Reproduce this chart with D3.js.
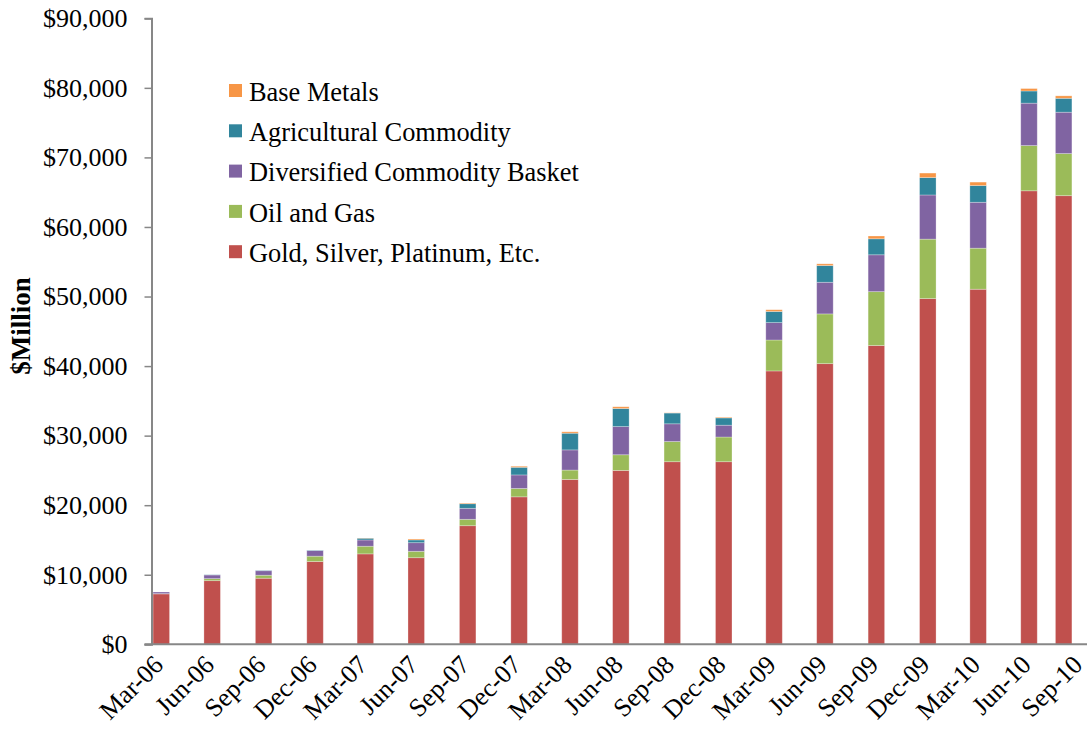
<!DOCTYPE html>
<html>
<head>
<meta charset="utf-8">
<script src="https://cdn.jsdelivr.net/npm/d3@7"></script>
<style>
  html, body { margin: 0; padding: 0; background: #fff; }
  svg { display: block; }
  text { font-family: "Liberation Serif", "Times New Roman", serif; fill: #000; }
</style>
</head>
<body>
<svg id="chart" width="1087" height="742"></svg>
<script>
// ---- Data ----
const categories = ["Mar-06","Jun-06","Sep-06","Dec-06","Mar-07","Jun-07","Sep-07","Dec-07","Mar-08","Jun-08","Sep-08","Dec-08","Mar-09","Jun-09","Sep-09","Dec-09","Mar-10","Jun-10","Sep-10"];
const dates = ["2006-03-31","2006-06-30","2006-09-30","2006-12-31","2007-03-31","2007-06-30","2007-09-30","2007-12-31","2008-03-31","2008-06-30","2008-09-30","2008-12-31","2009-03-31","2009-06-30","2009-09-30","2009-12-31","2010-03-31","2010-06-30","2010-08-31"];
const gold = [7250, 9150, 9500, 11900, 13000, 12450, 17050, 21200, 23700, 25000, 26250, 26250, 39300, 40350, 42950, 49700, 51050, 65200, 64500];
const oilGas = [30, 290, 430, 770, 1100, 920, 920, 1200, 1350, 2250, 2900, 3550, 4450, 7150, 7750, 8550, 5900, 6500, 6050];
const diversified = [240, 530, 650, 800, 900, 1240, 1580, 1950, 2900, 4050, 2550, 1700, 2500, 4550, 5300, 6350, 6600, 6100, 5950];
const agricultural = [0, 30, 50, 60, 250, 390, 660, 1100, 2400, 2600, 1550, 1050, 1600, 2400, 2300, 2500, 2400, 1750, 2000];
const baseMetals = [0, 0, 0, 0, 30, 140, 100, 150, 200, 250, 30, 100, 250, 250, 400, 650, 500, 350, 350];
const seriesNames = ["Gold, Silver, Platinum, Etc.", "Oil and Gas", "Diversified Commodity Basket", "Agricultural Commodity", "Base Metals"];
const seriesColors = ["#C0504D", "#9BBB59", "#8064A2", "#31859C", "#F79646"];
const yTicks = [0, 10000, 20000, 30000, 40000, 50000, 60000, 70000, 80000, 90000];
const xTickDates = ["2006-03-31","2006-06-30","2006-09-30","2006-12-31","2007-03-31","2007-06-30","2007-09-30","2007-12-31","2008-03-31","2008-06-30","2008-09-30","2008-12-31","2009-03-31","2009-06-30","2009-09-30","2009-12-31","2010-03-31","2010-06-30","2010-09-30"];

// ---- Build table ----
const parse = d3.utcParse("%Y-%m-%d");
const keys = ["gold","oil","div","ag","base"];
const seriesArrays = [gold, oilGas, diversified, agricultural, baseMetals];
const table = categories.map((c, i) => {
  const row = { cat: c, date: parse(dates[i]) };
  keys.forEach((k, j) => row[k] = seriesArrays[j][i]);
  return row;
});
const stacked = d3.stack().keys(keys)(table);

// ---- Scales ----
const svg = d3.select("#chart");
const axisX0 = 151.5, axisX1 = 1087;
const x = d3.scaleUtc()
  .domain([parse("2006-03-31"), parse("2010-06-30")])
  .range([161.3, 1029]);
const y = d3.scaleLinear().domain([0, 90000]).range([644.3, 18.3]);
const barW = 16.5;
const axisColor = "#878787";

// ---- Bars ----
const layers = svg.append("g").selectAll("g")
  .data(stacked).join("g")
  .attr("fill", (d, i) => seriesColors[i]);
layers.selectAll("rect")
  .data(d => d.filter(s => s[1] - s[0] > 0))
  .join("rect")
  .attr("x", d => x(d.data.date) - barW / 2)
  .attr("width", barW)
  .attr("y", d => y(d[1]))
  .attr("height", d => y(d[0]) - y(d[1]))
  .attr("stroke", "#ffffff")
  .attr("stroke-opacity", 0.35)
  .attr("stroke-width", 0.8);

// ---- Y axis ----
const fmt = d3.format(",");
const yAxis = d3.axisLeft(y).tickValues(yTicks).tickSize(7).tickPadding(17)
  .tickFormat(d => "$" + fmt(d));
const gy = svg.append("g").attr("transform", `translate(${axisX0},0)`).call(yAxis);
gy.select(".domain").attr("stroke", axisColor).attr("stroke-width", 2);
gy.selectAll(".tick line").attr("stroke", axisColor).attr("stroke-width", 1.5);
gy.selectAll(".tick text").style("font-size", "26px").style("font-family", "'Liberation Serif', serif").attr("fill", "#000");

// ---- X axis ----
svg.append("line")
  .attr("x1", axisX0 - 7).attr("x2", axisX1)
  .attr("y1", y(0)).attr("y2", y(0))
  .attr("stroke", axisColor).attr("stroke-width", 2);
const xAxis = d3.axisBottom(x).tickValues(xTickDates.map(parse)).tickSize(0)
  .tickFormat(d3.utcFormat("%b-%y"));
const gx = svg.append("g").attr("transform", `translate(0,${y(0)})`).call(xAxis);
gx.select(".domain").remove();
gx.selectAll(".tick text")
  .style("font-size", "26px").style("font-family", "'Liberation Serif', serif")
  .attr("fill", "#000")
  .attr("text-anchor", "end")
  .attr("y", 0).attr("dy", 0)
  .attr("transform", "translate(3,22) rotate(-45)");

// ---- Y title ----
svg.append("text")
  .attr("transform", "translate(30,326) rotate(-90)")
  .attr("text-anchor", "middle")
  .style("font-size", "27px").style("font-weight", "bold")
  .text("$Million");

// ---- Legend ----
const legendOrder = [4, 3, 2, 1, 0];
const lg = svg.append("g");
legendOrder.forEach((si, r) => {
  const top = 84 + r * 40.3;
  lg.append("rect").attr("x", 229).attr("y", top).attr("width", 13).attr("height", 13)
    .attr("fill", seriesColors[si]);
  lg.append("text").attr("x", 249).attr("y", top + 16.7)
    .style("font-size", "26.4px").text(seriesNames[si]);
});
</script>
</body>
</html>
